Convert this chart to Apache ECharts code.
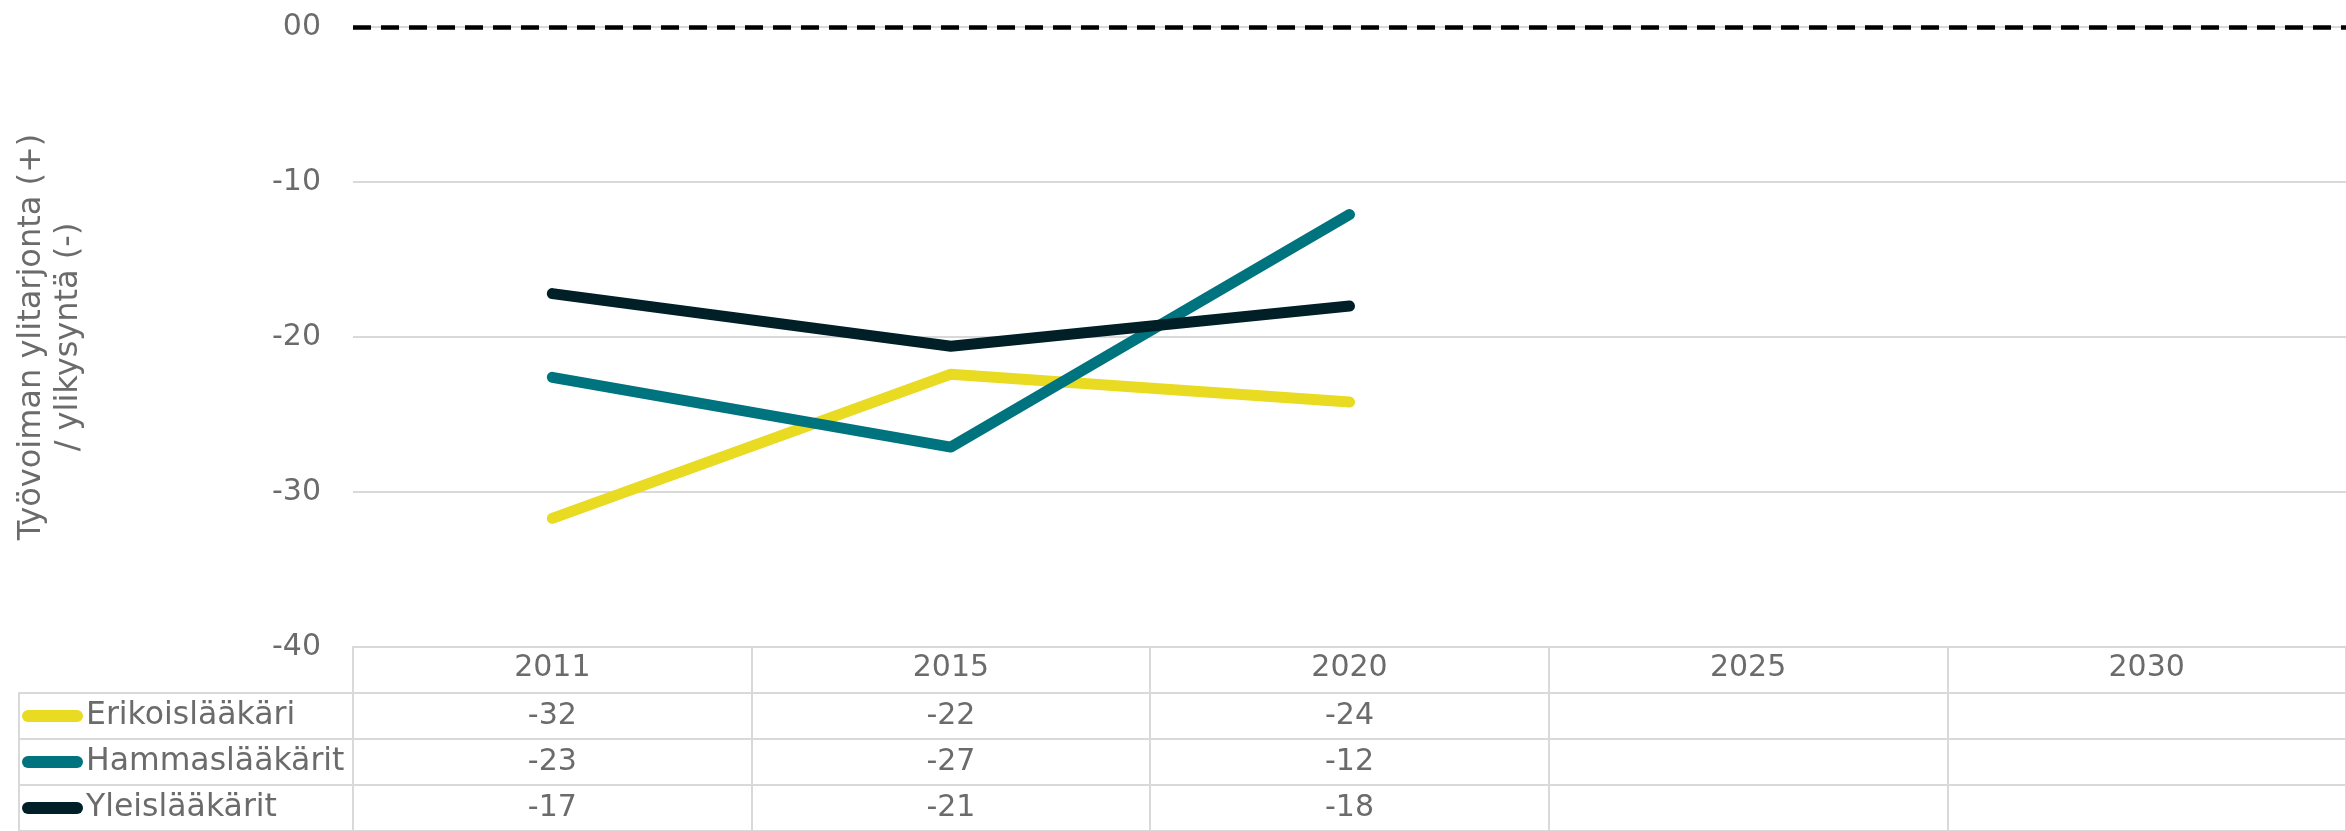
<!DOCTYPE html>
<html>
<head>
<meta charset="utf-8">
<script src="https://cdn.jsdelivr.net/npm/echarts@6/dist/echarts.min.js"></script>
<style>
  html, body { margin: 0; padding: 0; background: #fff; }
  #chart { width: 2346px; height: 831px; }
</style>
</head>
<body>
<div id="chart"></div>
<script>
// data
const years = ['2011', '2015', '2020', '2025', '2030'];
const seriesNames = ['Erikoislääkäri', 'Hammaslääkärit', 'Yleislääkärit'];
const erikoislaakari = [-31.7, -22.4, -24.2, null, null];
const hammaslaakarit = [-22.6, -27.1, -12.1, null, null];
const yleislaakarit = [-17.2, -20.6, -18.0, null, null];
const yTicks = [-40, -30, -20, -10, 0];

const colors = ['#e9da22', '#00747e', '#001f27'];
const values = [erikoislaakari, hammaslaakarit, yleislaakarit];
const textColor = '#6b6b6b';
const borderColor = '#d9d9d9';
const font = 'DejaVu Sans';

const chart = echarts.init(document.getElementById('chart'));

// line series in the top grid
const lineSeries = values.map((vals, i) => ({
    name: seriesNames[i],
    type: 'line',
    xAxisIndex: 0,
    yAxisIndex: 0,
    data: vals,
    symbol: 'none',
    lineStyle: { color: colors[i], width: 11, cap: 'round', join: 'round' },
    z: 3 + i,
    markLine: i === 0 ? {
        silent: true,
        symbol: ['none', 'none'],
        label: { show: false },
        lineStyle: { color: '#000', type: [18, 10], width: 4.5 },
        data: [{ yAxis: 0 }]
    } : undefined
}));

// value cells of the data table
const tableSeries = values.map((vals, i) => ({
    type: 'scatter',
    xAxisIndex: 1,
    yAxisIndex: 1,
    symbolSize: 0,
    itemStyle: { opacity: 1 },
    data: vals.map((v, j) => v == null ? null : [years[j], seriesNames[i], v]).filter(d => d),
    label: {
        show: true,
        position: 'inside',
        fontFamily: font,
        fontSize: 30,
        color: textColor,
        opacity: 1,
        formatter: p => String(Math.round(p.data[2]))
    }
}));

const rich = { t: { fontFamily: font, fontSize: 31.5, color: textColor, padding: [0, 0, 0, 3] } };
colors.forEach((c, i) => {
    rich['i' + i] = { width: 61, height: 12, backgroundColor: c, borderRadius: 6 };
});

const option = {
    animation: false,
    backgroundColor: '#fff',
    grid: [
        { left: 353, top: 27, width: 2010, height: 620 },
        { left: 353, top: 693, width: 2010, height: 144 },
        { left: 19, top: 693, width: 334, height: 144 }
    ],
    xAxis: [
        {
            type: 'category',
            gridIndex: 0,
            data: years,
            boundaryGap: true,
            axisLine: { show: true, onZero: false, lineStyle: { color: borderColor, width: 2 } },
            axisTick: { show: true, interval: 0, length: 46, lineStyle: { color: borderColor, width: 2 } },
            axisLabel: { margin: 6, fontFamily: font, fontSize: 30, color: textColor, interval: 0 },
            splitLine: { show: false }
        },
        {
            type: 'category',
            gridIndex: 1,
            data: years,
            boundaryGap: true,
            axisLine: { show: false },
            axisTick: { show: false },
            axisLabel: { show: false },
            splitLine: { show: true, interval: 0, lineStyle: { color: borderColor, width: 2 } }
        },
        { type: 'value', gridIndex: 2, show: false }
    ],
    yAxis: [
        {
            type: 'value',
            gridIndex: 0,
            min: yTicks[0],
            max: yTicks[yTicks.length - 1],
            interval: 10,
            axisLine: { show: false },
            axisTick: { show: false },
            axisLabel: {
                margin: 32,
                fontFamily: font,
                fontSize: 30,
                color: textColor,
                formatter: v => v === 0 ? '00' : String(v)
            },
            splitLine: { lineStyle: { color: borderColor, width: 2 } },
            name: 'Työvoiman ylitarjonta (+)\n/ ylikysyntä (-)',
            nameLocation: 'middle',
            nameGap: 266,
            nameTextStyle: { fontFamily: font, fontSize: 32, color: textColor, lineHeight: 37 }
        },
        {
            type: 'category',
            gridIndex: 1,
            data: seriesNames,
            inverse: true,
            axisLine: { show: false },
            axisTick: { show: false },
            axisLabel: { show: false },
            splitLine: { show: true, interval: 0, lineStyle: { color: borderColor, width: 2 } }
        },
        {
            type: 'category',
            gridIndex: 2,
            data: seriesNames,
            inverse: true,
            axisLine: { show: true, lineStyle: { color: borderColor, width: 2 } },
            axisTick: { show: false },
            axisLabel: {
                inside: true,
                margin: 3,
                interval: 0,
                fontFamily: font,
                fontSize: 31.5,
                color: textColor,
                formatter: (v, idx) => '{i' + idx + '|}{t|' + v + '}',
                rich: rich
            },
            splitLine: { show: true, interval: 0, lineStyle: { color: borderColor, width: 2 } }
        }
    ],
    series: lineSeries.concat(tableSeries)
};

chart.setOption(option);
window.addEventListener('resize', () => chart.resize());
</script>
</body>
</html>
